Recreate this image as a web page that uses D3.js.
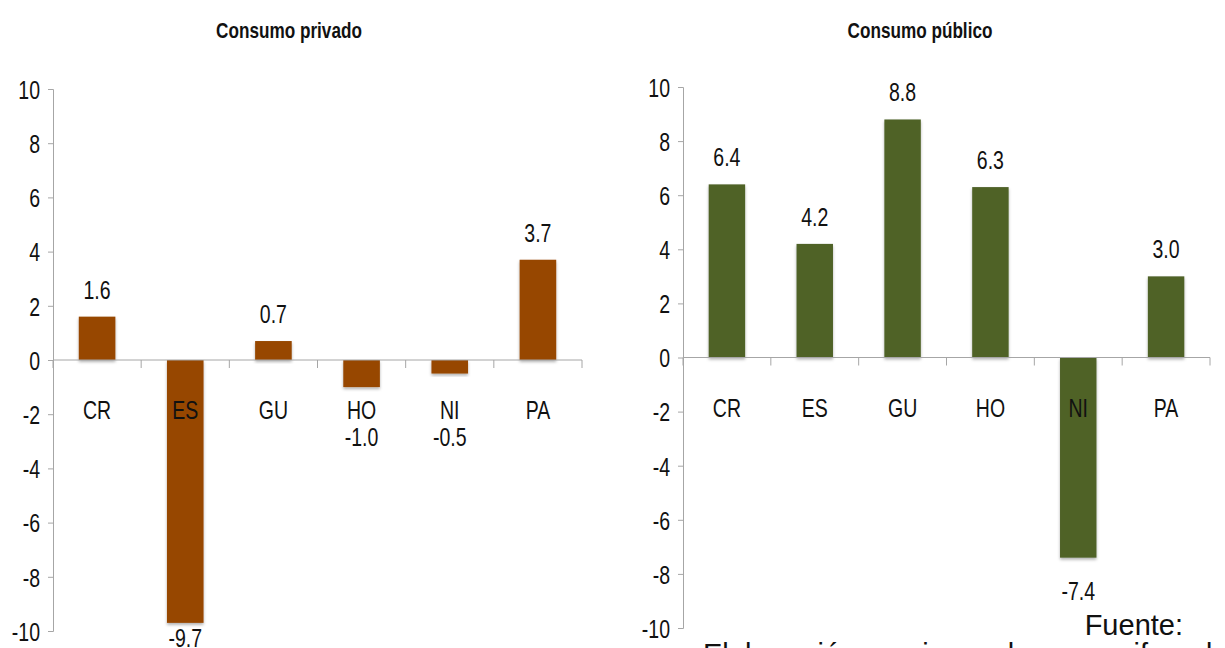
<!DOCTYPE html>
<html>
<head>
<meta charset="utf-8">
<script src="https://cdn.jsdelivr.net/npm/d3@7"></script>
<style>
  body { margin: 0; background: #fff; }
  svg text { font-family: "Liberation Sans", Arial, sans-serif; fill: #111; }
</style>
</head>
<body>
<div id="page-content"></div>
<script>
var categories = ["CR", "ES", "GU", "HO", "NI", "PA"];
var privado = [1.6, -9.7, 0.7, -1.0, -0.5, 3.7];
var publico = [6.4, 4.2, 8.8, 6.3, -7.4, 3.0];
var yTicks = [-10, -8, -6, -4, -2, 0, 2, 4, 6, 8, 10];

var NARROW = 0.75;

var svg = d3.select("#page-content").append("svg")
  .attr("width", 1225)
  .attr("height", 648);

var defs = svg.append("defs");
defs.append("filter")
  .attr("id", "shadow")
  .attr("x", "-20%").attr("y", "-20%").attr("width", "140%").attr("height", "140%")
  .append("feDropShadow")
  .attr("dx", 0).attr("dy", 2).attr("stdDeviation", 1.5)
  .attr("flood-color", "#000").attr("flood-opacity", 0.3);

// fake a condensed face: move x/y into a transform and squash horizontally
function squeeze(sel, sx) {
  sel.each(function () {
    var t = d3.select(this);
    var x = +t.attr("x") || 0, y = +t.attr("y") || 0;
    t.attr("x", 0).attr("y", 0)
      .attr("transform", "translate(" + x + "," + y + ") scale(" + sx + ",1)");
  });
}

function fmt(d) { return d3.format(".1f")(d).replace("\u2212", "-"); }

function drawPanel(opts) {
  var g = svg.append("g");
  var x = d3.scaleBand().domain(categories)
    .range([opts.left, opts.right])
    .paddingInner(0.585).paddingOuter(0.2925);
  var y = d3.scaleLinear().domain([-10, 10]).range([opts.bottom, opts.top]);
  var step = x.step();

  g.append("text")
    .attr("x", opts.titleX).attr("y", 38)
    .attr("text-anchor", "middle")
    .style("font-weight", "bold").style("font-size", "22px")
    .text(opts.title)
    .call(squeeze, 0.78);

  // y axis
  var yAxis = g.append("g")
    .attr("transform", "translate(" + opts.left + ",0)")
    .call(d3.axisLeft(y).tickValues(yTicks).tickSize(5).tickPadding(8)
      .tickFormat(function (d) { return String(d); }));
  yAxis.select(".domain").attr("stroke", "#a6a6a6");
  yAxis.selectAll(".tick line").attr("stroke", "#a6a6a6");
  yAxis.selectAll(".tick text").style("font-size", "26px").attr("dy", "0.36em")
    .attr("fill", "#111")
    .call(squeeze, NARROW);

  // bars
  g.selectAll("rect.bar").data(opts.values).enter().append("rect")
    .attr("class", "bar")
    .attr("x", function (d, i) { return x(categories[i]); })
    .attr("width", x.bandwidth())
    .attr("y", function (d) { return y(Math.max(0, d)); })
    .attr("height", function (d) { return Math.abs(y(d) - y(0)); })
    .attr("fill", opts.color)
    .attr("filter", "url(#shadow)");

  // x axis line and boundary ticks
  var y0 = y(0);
  g.append("line")
    .attr("x1", opts.left).attr("x2", opts.right)
    .attr("y1", y0).attr("y2", y0)
    .attr("stroke", "#a6a6a6");
  g.selectAll("line.xtick").data(d3.range(categories.length + 1)).enter().append("line")
    .attr("class", "xtick")
    .attr("x1", function (i) { return opts.left + i * step; })
    .attr("x2", function (i) { return opts.left + i * step; })
    .attr("y1", y0).attr("y2", y0 + 8)
    .attr("stroke", "#a6a6a6");

  // category labels
  g.selectAll("text.cat").data(categories).enter().append("text")
    .attr("class", "cat")
    .attr("x", function (d) { return x(d) + x.bandwidth() / 2; })
    .attr("y", y0 + 59)
    .attr("text-anchor", "middle")
    .style("font-size", "26px")
    .text(function (d) { return d; })
    .call(squeeze, NARROW);

  // value labels
  g.selectAll("text.val").data(opts.values).enter().append("text")
    .attr("class", "val")
    .attr("x", function (d, i) { return x(categories[i]) + x.bandwidth() / 2; })
    .attr("y", function (d) {
      if (d >= 0) return y(d) - 18;
      return Math.min(Math.max(y(d) + 42, y0 + 86), 647);
    })
    .attr("text-anchor", "middle")
    .style("font-size", "26px")
    .text(fmt)
    .call(squeeze, NARROW);
}

drawPanel({
  title: "Consumo privado", titleX: 289,
  left: 53, right: 582, top: 89, bottom: 631,
  values: privado, color: "#974706"
});

drawPanel({
  title: "Consumo público", titleX: 920,
  left: 683, right: 1210, top: 87, bottom: 628,
  values: publico, color: "#4f6228"
});

svg.append("text")
  .attr("x", 1183).attr("y", 635)
  .attr("text-anchor", "end")
  .style("font-size", "29px")
  .text("Fuente:");

svg.append("text")
  .attr("x", 703).attr("y", 664)
  .style("font-size", "29px")
  .text("Elaboración propia con base en cifras de los bancos centrales.");
</script>
</body>
</html>
